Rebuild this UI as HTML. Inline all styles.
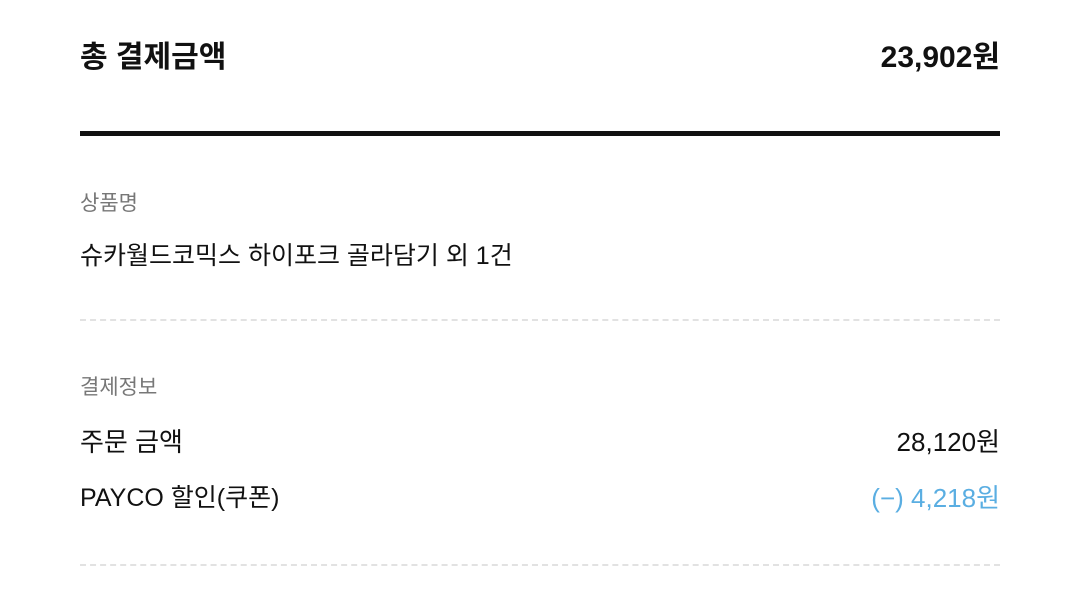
<!DOCTYPE html>
<html><head><meta charset="utf-8">
<style>
html,body{margin:0;padding:0;width:1080px;height:592px;background:#fff;overflow:hidden}
body{position:relative;font-family:"Liberation Sans","Noto Sans CJK KR",sans-serif;color:#111}
.t{position:absolute;white-space:nowrap;line-height:1}
.r{right:80px}
.l{left:80px}
.line{position:absolute;left:80px;width:920px}
</style></head><body>
<div class="t l" style="top:43px;font-size:30px;font-weight:700">총 결제금액</div>
<div class="t r" style="top:43px;font-size:30px;font-weight:700">23,902원</div>
<div class="line" style="top:131px;height:5px;background:#111"></div>
<div class="t l" style="top:193px;font-size:21px;color:#777">상품명</div>
<div class="t l" style="top:244px;font-size:25px">슈카월드코믹스 하이포크 골라담기 외 1건</div>
<div class="line" style="top:319px;border-top:2px dashed #e2e2e2"></div>
<div class="t l" style="top:377px;font-size:21px;color:#777">결제정보</div>
<div class="t l" style="top:429px;font-size:26px">주문 금액</div>
<div class="t r" style="top:429px;font-size:26px">28,120원</div>
<div class="t l" style="top:486px;font-size:25px">PAYCO 할인(쿠폰)</div>
<div class="t r" style="top:485px;font-size:26px;color:#5aaee2">(−) 4,218원</div>
<div class="line" style="top:564px;border-top:2px dashed #e2e2e2"></div>
</body></html>
